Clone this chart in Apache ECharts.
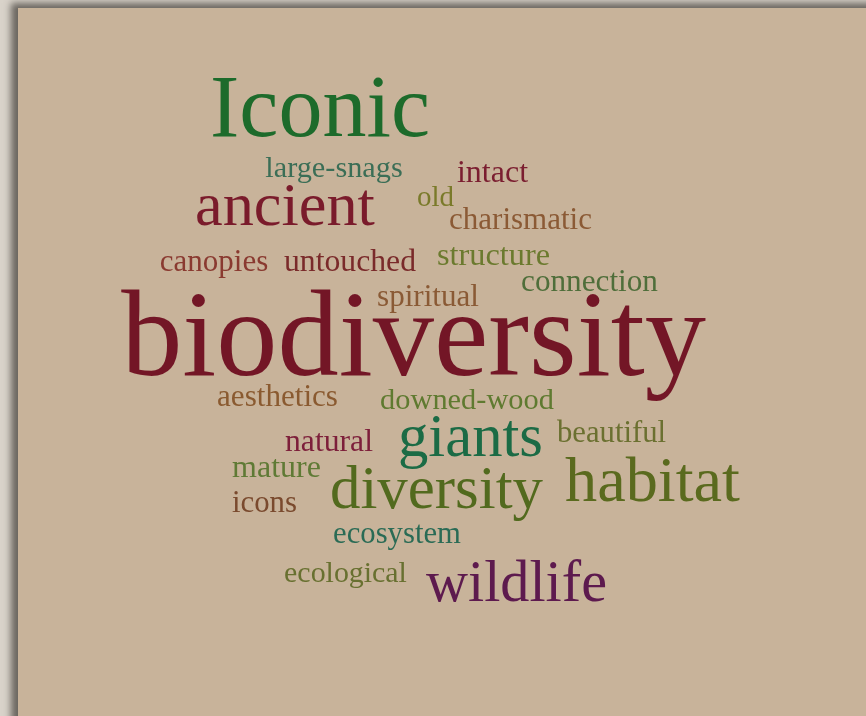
<!DOCTYPE html>
<html>
<head>
<meta charset="utf-8">
<script src="https://cdn.jsdelivr.net/npm/echarts@6/dist/echarts.min.js"></script>
<style>
  html, body { margin: 0; padding: 0; background: #d9d3ca; overflow: hidden; }
  #panel { position: absolute; left: 18px; top: 8px; width: 860px; height: 720px;
           background: #c8b39a; box-shadow: -6px -4px 7px 1px rgba(70,66,60,0.75); }
  #chart { position: absolute; left: 0; top: 0; width: 866px; height: 716px; }
</style>
</head>
<body>
<div id="panel"></div>
<div id="chart"></div>
<script>
// Words of the cloud and their weights (rendered as font size in px)
const words = ["Iconic","large-snags","intact","old","ancient","charismatic","canopies","untouched",
  "structure","connection","spiritual","biodiversity","aesthetics","downed-wood","natural","giants",
  "beautiful","mature","diversity","habitat","icons","ecosystem","ecological","wildlife"];
const weights = [88, 30.3, 32, 29, 62.3, 31, 31, 31.7,
  32.3, 31.2, 31.1, 122.4, 31.1, 30.4, 31.7, 60.7,
  30.7, 32, 60.9, 64.3, 30.8, 30.7, 29.9, 58.2];
// Layout: word centre x and text baseline y (pixels in the 866x716 frame)
const layoutX = [320, 334, 492.5, 435.5, 285, 520.5, 214, 350,
  493.5, 589.5, 428, 413.5, 277.5, 467, 329, 470.5,
  611.5, 276.5, 436.5, 652.5, 264.5, 397, 345.5, 516.5];
const layoutBase = [139, 178, 183, 207, 227, 230, 272, 272,
  266, 292, 307, 380, 407, 410, 452, 458,
  443, 478, 510, 503, 513, 544, 583, 603];
const colors = ["#1d6b2b","#3b6e56","#7b1e30","#7a7a2a","#7a1b2b","#8b5a35","#8a3a30","#7a2a2a",
  "#6b7a2e","#4f6e3a","#8a5a35","#731626","#8a5a30","#5f7a30","#7d1f3a","#1b6b45",
  "#6b7030","#5f7a35","#526a1e","#5a6a1e","#7a4a2e","#2a6b55","#687030","#5d1a4e"];

const FONT = '"Liberation Serif", "Times New Roman", serif';
const data = words.map((w, i) => ({
  name: w,
  value: [layoutX[i], layoutBase[i] - 0.30 * weights[i], weights[i]],
  label: { fontSize: weights[i], color: colors[i] }
}));

const chart = echarts.init(document.getElementById('chart'), null, { renderer: 'canvas' });
chart.setOption({
  backgroundColor: 'transparent',
  animation: false,
  grid: { left: 0, right: 0, top: 0, bottom: 0 },
  xAxis: { type: 'value', min: 0, max: 866, show: false },
  yAxis: { type: 'value', min: 0, max: 716, inverse: true, show: false },
  series: [{
    type: 'scatter',
    symbolSize: 0,
    itemStyle: { opacity: 1 },
    data: data,
    label: {
      show: true,
      position: 'inside',
      align: 'center',
      verticalAlign: 'middle',
      fontFamily: FONT,
      opacity: 1,
      formatter: p => p.name
    },
    emphasis: { disabled: true }
  }]
});
</script>
</body>
</html>
